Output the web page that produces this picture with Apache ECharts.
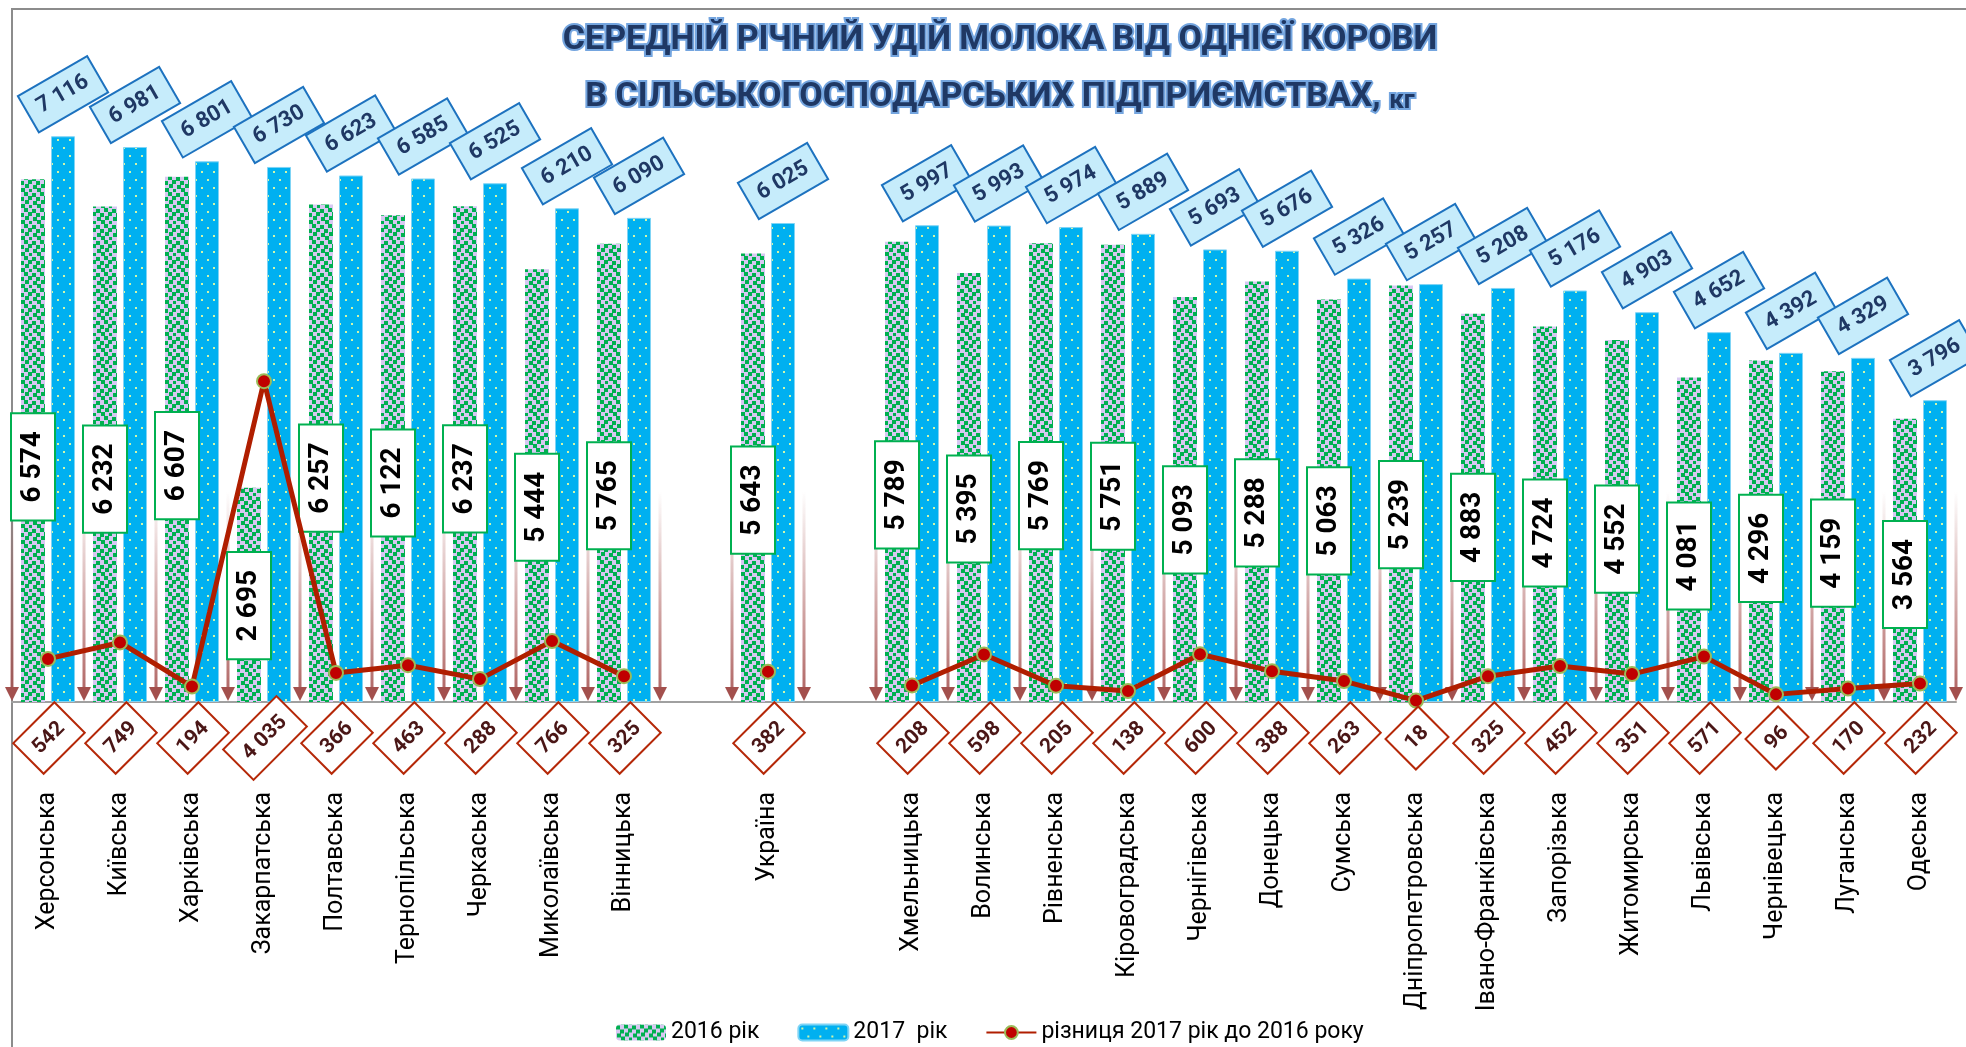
<!DOCTYPE html>
<html>
<head>
<meta charset="utf-8">
<script src="https://cdn.jsdelivr.net/npm/echarts@6/dist/echarts.min.js"></script>
<style>
html, body { margin: 0; padding: 0; background: #fff; }
#container { width: 1966px; height: 1047px; }
</style>
</head>
<body>
<div id="container"></div>
<script>
// області (порожні рядки - проміжки на графіку)
var categories = ['Херсонська', 'Київська', 'Харківська', 'Закарпатська', 'Полтавська', 'Тернопільська',
    'Черкаська', 'Миколаївська', 'Вінницька', '', 'Україна', '', 'Хмельницька', 'Волинська', 'Рівненська',
    'Кіровоградська', 'Чернігівська', 'Донецька', 'Сумська', 'Дніпропетровська', 'Івано-Франківська',
    'Запорізька', 'Житомирська', 'Львівська', 'Чернівецька', 'Луганська', 'Одеська'];
var milk2016 = [6574, 6232, 6607, 2695, 6257, 6122, 6237, 5444, 5765, '-', 5643, '-',
    5789, 5395, 5769, 5751, 5093, 5288, 5063, 5239, 4883, 4724, 4552, 4081, 4296, 4159, 3564];
var milk2017 = [7116, 6981, 6801, 6730, 6623, 6585, 6525, 6210, 6090, '-', 6025, '-',
    5997, 5993, 5974, 5889, 5693, 5676, 5326, 5257, 5208, 5176, 4903, 4652, 4392, 4329, 3796];
var difference = [542, 749, 194, 4035, 366, 463, 288, 766, 325, '-', 382, '-',
    208, 598, 205, 138, 600, 388, 263, 18, 325, 452, 351, 571, 96, 170, 232];
var seriesNames = ['2016 рік', '2017  рік', 'різниця 2017 рік до 2016 року'];
var arrowTop = 2650;

function fmt(v) {
    return String(v).replace(/\B(?=(\d{3})+(?!\d))/g, ' ');
}

// візерунок для 2016
function confetti() {
    var c = document.createElement('canvas');
    c.width = 16; c.height = 16;
    var g = c.getContext('2d');
    g.fillStyle = '#d7c8f2';
    g.fillRect(0, 0, 16, 16);
    g.fillStyle = '#00b050';
    [[0, 1], [8, 0], [4, 5], [12, 4], [1, 9], [9, 8], [5, 12], [13, 13]].forEach(function (p) {
        g.fillRect(p[0], p[1], 4, 4);
    });
    return c;
}
// візерунок для 2017
function dots() {
    var c = document.createElement('canvas');
    c.width = 12; c.height = 16;
    var g = c.getContext('2d');
    g.fillStyle = '#00b0f0';
    g.fillRect(0, 0, 12, 16);
    g.fillStyle = '#d2f5a8';
    g.fillRect(3, 3, 2, 2);
    g.fillRect(9, 11, 2, 2);
    return c;
}

var font = 'Roboto';
var baseGraphic = [
    {
        type: 'rect', silent: true, z: -10,
        shape: { x: 12, y: 9, width: 2000, height: 1100 },
        style: { fill: 'none', stroke: '#8c8c8c', lineWidth: 2 }
    },
    {
        type: 'text', x: 1000, y: 40, silent: true,
        style: {
            text: 'СЕРЕДНІЙ РІЧНИЙ УДІЙ МОЛОКА ВІД ОДНІЄЇ КОРОВИ',
            fontFamily: font, fontWeight: 'bold', fontSize: 34,
            fill: '#1f3864', stroke: '#74a5df', lineWidth: 4,
            align: 'center', verticalAlign: 'middle'
        }
    },
    {
        type: 'text', x: 1000, y: 97, silent: true,
        style: {
            text: '{a|В СІЛЬСЬКОГОСПОДАРСЬКИХ ПІДПРИЄМСТВАХ, }{b|кг}',
            align: 'center', verticalAlign: 'middle',
            rich: {
                a: { fontFamily: font, fontWeight: 'bold', fontSize: 34, fill: '#1f3864', stroke: '#74a5df', lineWidth: 4, verticalAlign: 'bottom' },
                b: { fontFamily: font, fontWeight: 'bold', fontSize: 26, fill: '#1f3864', stroke: '#74a5df', lineWidth: 4, verticalAlign: 'bottom' }
            }
        }
    }
];

var myChart = echarts.init(document.getElementById('container'));
var option = {
    animation: false,
    graphic: baseGraphic,
    legend: {
        data: seriesNames,
        left: 611,
        top: 1016,
        itemWidth: 50,
        itemHeight: 16,
        itemGap: 38,
        textStyle: { fontFamily: font, fontSize: 23, color: '#000' }
    },
    grid: {
        left: 12, right: 10, top: 66, bottom: 345,
        outerBoundsMode: 'none'
    },
    xAxis: {
        type: 'category',
        data: categories,
        axisLine: { lineStyle: { color: '#a0a0a0', width: 2 } },
        axisTick: { show: false },
        axisLabel: {
            interval: 0, rotate: 90, margin: 90,
            fontFamily: font, fontSize: 25, color: '#000'
        }
    },
    yAxis: {
        type: 'value', min: 0, max: 8000, show: false,
        splitLine: { show: false }
    },
    series: [
        {
            // стрілки між областями
            type: 'custom',
            silent: true,
            z: 1,
            data: categories.map(function (c, i) { return [i, arrowTop]; }),
            renderItem: function (params, api) {
                var i = api.value(0);
                var base = api.coord([i, 0]);
                var top = api.coord([i, api.value(1)])[1];
                var half = api.size([1, 0])[0] / 2;
                var xs = [base[0] - half];
                if (i === categories.length - 1) xs.push(base[0] + half);
                var children = [];
                xs.forEach(function (x) {
                    children.push({
                        type: 'rect',
                        shape: { x: x - 1.5, y: top, width: 3, height: base[1] - top - 14 },
                        style: {
                            fill: new echarts.graphic.LinearGradient(0, 0, 0, 1, [
                                { offset: 0, color: 'rgba(165,80,78,0)' },
                                { offset: 1, color: 'rgba(165,80,78,0.85)' }
                            ])
                        }
                    });
                    children.push({
                        type: 'polygon',
                        shape: { points: [[x - 7, base[1] - 15], [x + 7, base[1] - 15], [x, base[1] - 1]] },
                        style: { fill: '#a3504d' }
                    });
                });
                return { type: 'group', children: children };
            }
        },
        {
            name: seriesNames[0],
            type: 'bar',
            data: milk2016,
            barWidth: 24,
            barGap: '25%',
            z: 2,
            itemStyle: { color: { image: confetti(), repeat: 'repeat' } },
            label: {
                show: true,
                position: ['50%', '55%'],
                rotate: 90,
                align: 'center',
                verticalAlign: 'middle',
                formatter: function (p) { return fmt(p.value); },
                fontFamily: font, fontWeight: 'bold', fontSize: 28, color: '#000',
                backgroundColor: '#fff', borderColor: '#00b050', borderWidth: 2,
                padding: [7, 17, 7, 17]
            }
        },
        {
            name: seriesNames[1],
            type: 'bar',
            data: milk2017,
            barWidth: 24,
            z: 2,
            itemStyle: { color: { image: dots(), repeat: 'repeat' }, borderColor: '#7fd4f5', borderWidth: 1 }
        },
        {
            name: seriesNames[2],
            type: 'line',
            data: difference,
            z: 5,
            symbol: 'circle',
            symbolSize: 14,
            connectNulls: false,
            lineStyle: { color: '#b01e00', width: 5 },
            itemStyle: { color: '#c00000', borderColor: '#9bbb59', borderWidth: 2 }
        }
    ]
};
myChart.setOption(option);

// похилі підписи: 2017 рік над стовпцями і ромби з різницею під віссю
var labels = [];
milk2017.forEach(function (v, i) {
    if (v === '-') return;
    var p = myChart.convertToPixel({ gridIndex: 0 }, [i, v]);
    labels.push({
        type: 'text', x: p[0] + 15, y: p[1] - 42, rotation: Math.PI / 6, z: 50, silent: true,
        style: {
            text: fmt(v),
            fontFamily: font, fontWeight: 'bold', fontSize: 22, fill: '#1f3864',
            align: 'center', verticalAlign: 'middle',
            backgroundColor: '#c6ecfb', borderColor: '#1d72bf', borderWidth: 2,
            padding: [9, 11, 9, 11]
        }
    });
});
difference.forEach(function (v, i) {
    if (v === '-') return;
    var p = myChart.convertToPixel({ gridIndex: 0 }, [i, 0]);
    labels.push({
        type: 'text', x: p[0] + 1, y: p[1] + 36, rotation: Math.PI / 4, z: 50, silent: true,
        style: {
            text: fmt(v),
            fontFamily: font, fontWeight: 'bold', fontSize: 21, fill: '#4a1616',
            align: 'center', verticalAlign: 'middle',
            backgroundColor: '#fff', borderColor: '#b52808', borderWidth: 2,
            padding: [10, 10, 10, 10]
        }
    });
});
myChart.setOption({ graphic: baseGraphic.concat(labels) });
</script>
</body>
</html>
